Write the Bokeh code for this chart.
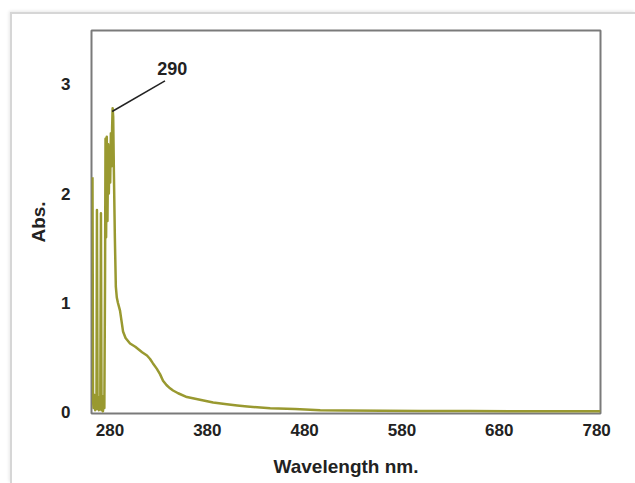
from bokeh.plotting import figure
from bokeh.models import Label, FixedTicker
from bokeh.embed import file_html
from bokeh.resources import INLINE

# Wavelength (nm) and absorbance
wavelength = [262, 262.6, 263.2, 264, 264.8, 265.6, 266.1, 266.6, 267.2, 267.9, 268.6, 269.3, 270.0, 270.7,
              271.3, 272.0, 272.8, 273.5, 274.2, 274.9, 275.4, 276.0, 276.7, 277.4, 278.1, 278.8, 279.5,
              280.2, 280.9, 281.6, 282.2, 282.7, 283.3, 284.0, 285.0, 286.0, 287.0, 288.2, 290.3, 293.4,
              296.0, 300.6, 306.0, 313.0, 318.0, 321.0, 324.0, 328.0, 331.4, 334.5, 338.0, 341.7, 344.8,
              350.0, 359.0, 370.0, 386.0, 400.0, 410.7, 421.0, 444.6, 470.0, 496.0, 520.0, 560.0, 600.0,
              650.0, 700.0, 750.0, 784.0]
absorbance = [2.15, 0.10, 0.04, 0.16, 0.02, 0.12, 0.03, 1.85, 0.05, 0.14, 0.02, 0.11, 0.03, 1.82,
              0.02, 0.12, 0.01, 0.15, 0.04, 1.20, 2.50, 1.60, 2.52, 1.75, 2.45, 2.00, 2.40,
              2.10, 2.55, 2.25, 2.60, 2.78, 2.70, 2.20, 1.60, 1.15, 1.05, 1.00, 0.93, 0.74,
              0.68, 0.63, 0.60, 0.55, 0.52, 0.49, 0.45, 0.40, 0.35, 0.29, 0.25, 0.22, 0.20,
              0.175, 0.14, 0.12, 0.09, 0.075, 0.064, 0.055, 0.037, 0.03, 0.02, 0.018, 0.015, 0.013,
              0.012, 0.01, 0.01, 0.01]

x_ticks = [280, 380, 480, 580, 680, 780]
y_ticks = [0, 1, 2, 3]
peak_label = "290"

FONT = "Liberation Sans"

p = figure(width=625, height=471, output_backend="svg", toolbar_location=None,
           x_range=(261, 784), y_range=(-0.01, 3.49),
           min_border_left=79, min_border_right=37, min_border_top=16, min_border_bottom=72)
p.margin = (12, 0, 0, 10)
p.styles = {"border-top": "2px solid #d6d6d6", "border-left": "2px solid #d6d6d6",
            "box-shadow": "-1px -1px 3px #e8e8e8"}

p.line(wavelength, absorbance, line_color="#999930", line_width=2.5, line_join="round")

p.xgrid.visible = False
p.ygrid.visible = False
p.outline_line_color = "#7a7a7a"
p.outline_line_width = 2

for ax in (p.xaxis[0], p.yaxis[0]):
    ax.axis_line_color = None
    ax.major_tick_line_color = None
    ax.minor_tick_line_color = None
    ax.major_label_text_font = FONT
    ax.major_label_text_font_style = "bold"
    ax.major_label_text_font_size = "17px"
    ax.major_label_text_color = "#222222"
    ax.axis_label_text_font = FONT
    ax.axis_label_text_font_style = "bold"
    ax.axis_label_text_font_size = "19px"
    ax.axis_label_text_color = "#222222"

p.xaxis.ticker = FixedTicker(ticks=x_ticks)
p.yaxis.ticker = FixedTicker(ticks=y_ticks)
p.xaxis.axis_label = "Wavelength nm."
p.yaxis.axis_label = "Abs."
p.xaxis.major_label_standoff = 4
p.yaxis.major_label_standoff = 15
p.xaxis.axis_label_standoff = 17
p.yaxis.axis_label_standoff = 9

p.segment(x0=[282.2], y0=[2.75], x1=[336.5], y1=[3.03], line_color="#222222", line_width=1.5)
p.add_layout(Label(x=344, y=3.14, text=peak_label, text_font=FONT, text_font_style="bold",
                   text_font_size="18px", text_color="#222222", text_align="center",
                   text_baseline="middle"))

open("out.html", "w").write(file_html(p, INLINE))
